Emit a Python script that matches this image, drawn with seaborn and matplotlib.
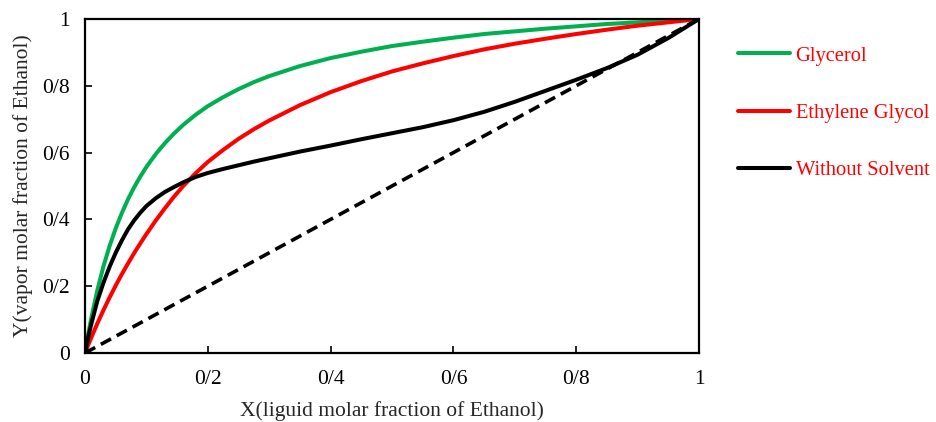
import numpy as np
import pandas as pd
import matplotlib
matplotlib.use('Agg')
import matplotlib.pyplot as plt
import seaborn as sns

# liquid molar fraction of ethanol
x_liq = [0, 0.005, 0.01, 0.02, 0.03, 0.04, 0.05, 0.06, 0.07, 0.08, 0.09, 0.1,
         0.115, 0.13, 0.145, 0.16, 0.18, 0.2, 0.225, 0.25, 0.275, 0.3, 0.35, 0.4,
         0.45, 0.5, 0.55, 0.6, 0.65, 0.7, 0.75, 0.8, 0.85, 0.9, 0.95, 1.0]
# vapor molar fraction
y_glycerol = [0, 0.054, 0.102, 0.187, 0.259, 0.320, 0.373, 0.419, 0.460, 0.496, 0.528, 0.557,
              0.595, 0.628, 0.657, 0.683, 0.713, 0.739, 0.766, 0.790, 0.811, 0.829, 0.859, 0.883,
              0.902, 0.919, 0.932, 0.944, 0.955, 0.963, 0.971, 0.978, 0.985, 0.990, 0.995, 1.0]
y_ethylene = [0, 0.023, 0.045, 0.088, 0.128, 0.166, 0.202, 0.236, 0.268, 0.299, 0.328, 0.356,
              0.396, 0.433, 0.468, 0.500, 0.538, 0.572, 0.608, 0.641, 0.670, 0.696, 0.742, 0.781,
              0.814, 0.843, 0.867, 0.889, 0.909, 0.926, 0.941, 0.955, 0.968, 0.980, 0.990, 1.0]
y_nosolvent = [0, 0.045, 0.085, 0.155, 0.210, 0.258, 0.300, 0.337, 0.370, 0.397, 0.420, 0.440,
               0.463, 0.482, 0.497, 0.511, 0.527, 0.539, 0.551, 0.562, 0.573, 0.583, 0.603, 0.621,
               0.640, 0.658, 0.676, 0.697, 0.722, 0.752, 0.785, 0.818, 0.853, 0.893, 0.943, 1.0]
diag = [0, 1]

ticks = [0, 0.2, 0.4, 0.6, 0.8, 1.0]
tick_labels = ['0', '0/2', '0/4', '0/6', '0/8', '1']

sns.set_style('ticks')
plt.rcParams['font.family'] = ['Liberation Serif', 'DejaVu Serif']
plt.rcParams['font.size'] = 15.5

df = pd.DataFrame({'x': x_liq, 'Glycerol': y_glycerol,
                   'Ethylene Glycol': y_ethylene, 'Without Solvent': y_nosolvent})

fig = plt.figure(figsize=(9.36, 4.22), dpi=100)
ax = fig.add_axes([0.0908, 0.1635, 0.656, 0.7915])

sns.lineplot(data=df, x='x', y='Glycerol', color='#00B050', lw=2.9, ax=ax, label='Glycerol')
sns.lineplot(data=df, x='x', y='Ethylene Glycol', color='#FF0000', lw=2.9, ax=ax, label='Ethylene Glycol')
sns.lineplot(data=df, x='x', y='Without Solvent', color='black', lw=2.9, ax=ax, label='Without Solvent')
sns.lineplot(x=diag, y=diag, color='black', lw=2.6, ax=ax, linestyle=(0, (3.2, 1.8)))

ax.set_xlim(0, 1)
ax.set_ylim(0, 1)
ax.set_xticks(ticks, tick_labels)
ax.set_yticks(ticks, tick_labels)
ax.tick_params(direction='in', length=5, width=1.2, colors='black', labelsize=15.5)
ax.tick_params(axis='x', pad=12)
ax.tick_params(axis='y', pad=11)
for s in ax.spines.values():
    s.set_linewidth(1.6)
    s.set_color('black')

ax.set_xlabel('X(liguid molar fraction of Ethanol)', fontsize=15.5)
ax.set_ylabel('Y(vapor molar fraction of Ethanol)', fontsize=15.5)
ax.xaxis.set_label_coords(0.5, -0.145)
ax.yaxis.set_label_coords(-0.084, 0.5)

handles, labels = ax.get_legend_handles_labels()
ax.get_legend().remove()
fig.legend(handles[:3], labels[:3], loc='upper left', bbox_to_anchor=(0.7775, 0.915),
           frameon=False, labelcolor='red', fontsize=14.8, handlelength=2.55,
           handletextpad=0.25, labelspacing=1.85, borderpad=0)

fig.savefig('out.png', dpi=100)
